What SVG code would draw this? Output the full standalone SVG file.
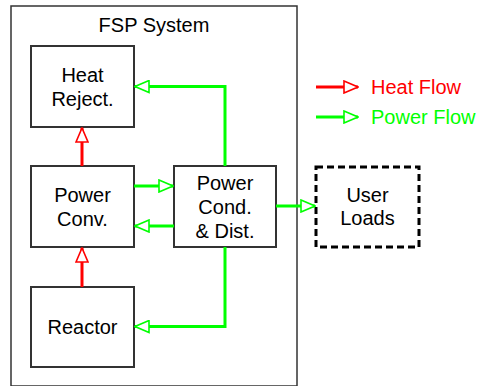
<svg xmlns="http://www.w3.org/2000/svg" width="478" height="386" viewBox="0 0 478 386">
<style>
.box{fill:#fff;stroke:#333;stroke-width:2}
.t{font-family:"Liberation Sans",Arial,sans-serif;font-size:20px;fill:#000;text-anchor:middle}
.heat{stroke:#f00;stroke-width:3;fill:none}
.pow{stroke:#0f0;stroke-width:3;fill:none}
</style>
<defs>
<marker id="ah" markerUnits="userSpaceOnUse" markerWidth="16" markerHeight="14" refX="14" refY="6" orient="auto" viewBox="-1 -1 16 14">
<path d="M0,0 L14,6 L0,12 Z" fill="#fff" stroke="#f00" stroke-width="1.6"/>
</marker>
<marker id="ap" markerUnits="userSpaceOnUse" markerWidth="16" markerHeight="14" refX="14" refY="6" orient="auto" viewBox="-1 -1 16 14">
<path d="M0,0 L14,6 L0,12 Z" fill="#fff" stroke="#0f0" stroke-width="1.6"/>
</marker>
</defs>
<rect width="478" height="386" fill="#fff"/>
<g id="fsp-system">
<rect x="11" y="6" width="286" height="380" fill="none" stroke="#333" stroke-width="1.5"/>
<text class="t" x="154" y="32">FSP System</text>
</g>
<g id="heat-reject">
<rect class="box" x="31" y="46" width="103" height="81"/>
<text class="t" x="82.5" y="82">Heat</text>
<text class="t" x="82.5" y="106">Reject.</text>
</g>
<g id="power-conv">
<rect class="box" x="31" y="166" width="103" height="81"/>
<text class="t" x="82.5" y="202">Power</text>
<text class="t" x="82.5" y="226">Conv.</text>
</g>
<g id="power-cond">
<rect class="box" x="174" y="166" width="102" height="81"/>
<text class="t" x="225" y="190">Power</text>
<text class="t" x="225" y="214">Cond.</text>
<text class="t" x="225" y="238">&amp; Dist.</text>
</g>
<g id="reactor">
<rect class="box" x="31" y="287" width="103" height="80"/>
<text class="t" x="82.5" y="334">Reactor</text>
</g>
<g id="user-loads">
<rect x="316" y="167" width="103" height="80" fill="#fff" stroke="#000" stroke-width="3" stroke-dasharray="7,4"/>
<text class="t" x="367.5" y="202">User</text>
<text class="t" x="367.5" y="225">Loads</text>
</g>
<g id="legend">
<line class="heat" x1="316" y1="87" x2="358" y2="87" marker-end="url(#ah)"/>
<text x="371" y="94" font-family="Liberation Sans,Arial,sans-serif" font-size="20" fill="#f00">Heat Flow</text>
<line class="pow" x1="316" y1="117" x2="358" y2="117" marker-end="url(#ap)"/>
<text x="371" y="124" font-family="Liberation Sans,Arial,sans-serif" font-size="20" fill="#0f0">Power Flow</text>
</g>
<g id="connectors">
<line class="heat" x1="82" y1="166" x2="82" y2="128" marker-end="url(#ah)"/>
<line class="heat" x1="82" y1="287" x2="82" y2="248" marker-end="url(#ah)"/>
<line class="pow" x1="134" y1="186" x2="173" y2="186" marker-end="url(#ap)"/>
<line class="pow" x1="174" y1="226" x2="135" y2="226" marker-end="url(#ap)"/>
<polyline class="pow" points="225,166 225,86.5 135,86.5" marker-end="url(#ap)"/>
<polyline class="pow" points="225,247 225,326.5 135,326.5" marker-end="url(#ap)"/>
<line class="pow" x1="276" y1="206" x2="315" y2="206" marker-end="url(#ap)"/>
</g>
</svg>
